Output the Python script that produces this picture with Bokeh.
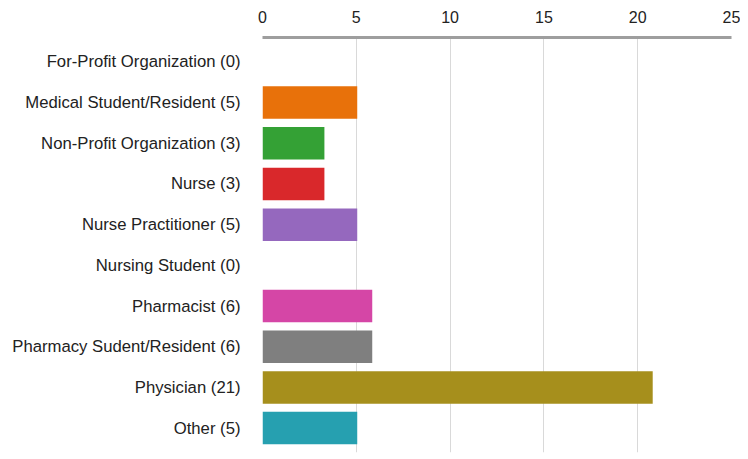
from bokeh.plotting import figure
from bokeh.models import ColumnDataSource, FactorRange, Range1d, FixedTicker
from bokeh.embed import file_html
from bokeh.resources import INLINE

roles = ["For-Profit Organization", "Medical Student/Resident", "Non-Profit Organization",
         "Nurse", "Nurse Practitioner", "Nursing Student", "Pharmacist",
         "Pharmacy Sudent/Resident", "Physician", "Other"]
counts = [0, 5, 3, 3, 5, 0, 6, 6, 21, 5]
bar_lengths = [0, 5.05, 3.3, 3.3, 5.05, 0, 5.85, 5.85, 20.8, 5.05]
colors = ["#3366cc", "#E8710A", "#34A135", "#D9282B", "#9568BE", "#888888",
          "#D546A6", "#7F7F7F", "#A68F1C", "#26A0B0"]
ticks = [0, 5, 10, 15, 20, 25]

labels = [f"{r} ({c})" for r, c in zip(roles, counts)]
src = ColumnDataSource(dict(label=labels, value=bar_lengths, color=colors))

p = figure(width=740, height=455, output_backend="svg", toolbar_location=None,
           y_range=FactorRange(factors=labels[::-1], range_padding=0.02),
           x_range=Range1d(0, 25), x_axis_location="above",
           min_border_left=262, min_border_right=9, min_border_top=37,
           min_border_bottom=3)
p.outline_line_color = None

p.hbar(y="label", right="value", left=0, height=0.8, fill_color="color",
       line_color=None, source=src)

xa = p.xaxis[0]
xa.ticker = FixedTicker(ticks=ticks)
xa.axis_line_color = "#9e9e9e"
xa.axis_line_width = 3
xa.major_tick_line_color = None
xa.minor_tick_line_color = None
xa.major_label_text_font = "Liberation Sans"
xa.major_label_text_font_size = "16px"
xa.major_label_text_color = "#222222"
xa.major_label_standoff = 9

ya = p.yaxis[0]
ya.axis_line_color = None
ya.major_tick_line_color = None
ya.minor_tick_line_color = None
ya.major_label_text_font = "Liberation Sans"
ya.major_label_text_font_size = "16.7px"
ya.major_label_text_color = "#222222"
ya.major_label_standoff = 16

p.xgrid.ticker = FixedTicker(ticks=ticks)
p.xgrid.grid_line_color = "#d9d9d9"
p.xgrid.grid_line_width = 1
p.ygrid.grid_line_color = None

open("out.html", "w").write(file_html(p, INLINE))
